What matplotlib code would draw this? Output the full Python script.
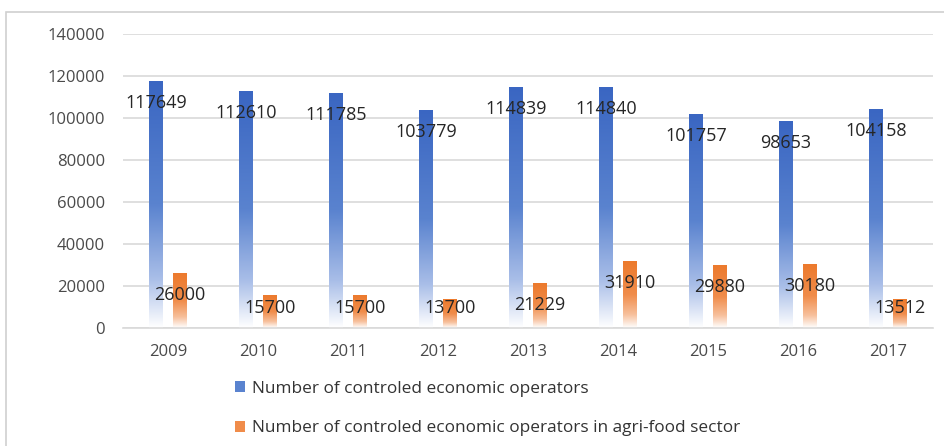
import matplotlib
matplotlib.use("Agg")
import matplotlib.pyplot as plt
import numpy as np
from matplotlib.colors import LinearSegmentedColormap
from matplotlib.patches import Patch, Rectangle

years = ["2009", "2010", "2011", "2012", "2013", "2014", "2015", "2016", "2017"]
operators = [117649, 112610, 111785, 103779, 114839, 114840, 101757, 98653, 104158]
agri_food = [26000, 15700, 15700, 13700, 21229, 31910, 29880, 30180, 13512]
series_names = ["Number of controled economic operators",
                "Number of controled economic operators in agri-food sector"]

plt.rcParams['font.family'] = ['Open Sans', 'DejaVu Sans']

# gradient maps, bottom (white) to top (solid)
blue_cmap = LinearSegmentedColormap.from_list(
    "blue_fade", [(0.0, "#ffffff"), (0.2, "#a9bee8"), (0.5, "#5a83cf"), (1.0, "#3a66c2")])
orange_cmap = LinearSegmentedColormap.from_list(
    "orange_fade", [(0.0, "#ffffff"), (0.2, "#f7c09c"), (0.5, "#f08c4a"), (1.0, "#ec7a2d")])

fig = plt.figure(figsize=(9.44, 4.46), dpi=100)
fig.patches.append(Rectangle((6 / 944, -0.1), 1.2, 1.1 - 12 / 446, transform=fig.transFigure,
                             fill=False, edgecolor="#d0d0d0", linewidth=1.2))
ax = fig.add_axes([123 / 944, 118.3 / 446, 810 / 944, 293.7 / 446])

x = np.arange(len(years))
width = 0.155
offset = 0.133
ax.set_xlim(-0.5, len(years) - 0.5)
ax.set_ylim(0, 140000)

grad = np.linspace(0, 1, 256).reshape(-1, 1)
for vals, shift, cmap in [(operators, -offset, blue_cmap), (agri_food, offset, orange_cmap)]:
    bars = ax.bar(x + shift, vals, width, color="none", edgecolor="none", zorder=2)
    for rect, v in zip(bars, vals):
        x0, y0 = rect.get_x(), rect.get_y()
        im = ax.imshow(grad, cmap=cmap, origin="lower", aspect="auto", zorder=2,
                       extent=[x0, x0 + rect.get_width(), y0, y0 + rect.get_height()])
        im.set_clip_path(rect)
        # label sits just inside the bar end, but never below the baseline band
        ax.text(rect.get_x() + rect.get_width() / 2, max(v - 10500, 9400), str(v),
                ha="center", va="center", fontsize=13, color="#262626", zorder=4)

ax.set_xlim(-0.5, len(years) - 0.5)
ax.set_ylim(0, 140000)
ax.set_yticks(np.arange(0, 140001, 20000))
ax.set_xticks(x)
ax.set_xticklabels(years)
ax.yaxis.grid(True, color="#d9d9d9", linewidth=1.2, zorder=0)
ax.set_axisbelow(True)
for s in ["top", "right", "left"]:
    ax.spines[s].set_visible(False)
ax.spines["bottom"].set_color("#d9d9d9")
ax.spines["bottom"].set_linewidth(1.2)
ax.tick_params(axis="both", length=0, labelsize=12, colors="#4a4a4a")
ax.tick_params(axis="y", pad=13)
ax.tick_params(axis="x", pad=12)

handles = [Patch(facecolor="#5a83cf", edgecolor="none"),
           Patch(facecolor="#f08c4a", edgecolor="none")]
fig.legend(handles, series_names, loc="upper left", bbox_to_anchor=(228 / 944, 1 - 374 / 446),
           frameon=False, fontsize=12.4, labelcolor="#333333", handlelength=0.6,
           handleheight=0.6, handletextpad=0.4, labelspacing=1.35, borderaxespad=0)

fig.savefig("out.png", dpi=100)
